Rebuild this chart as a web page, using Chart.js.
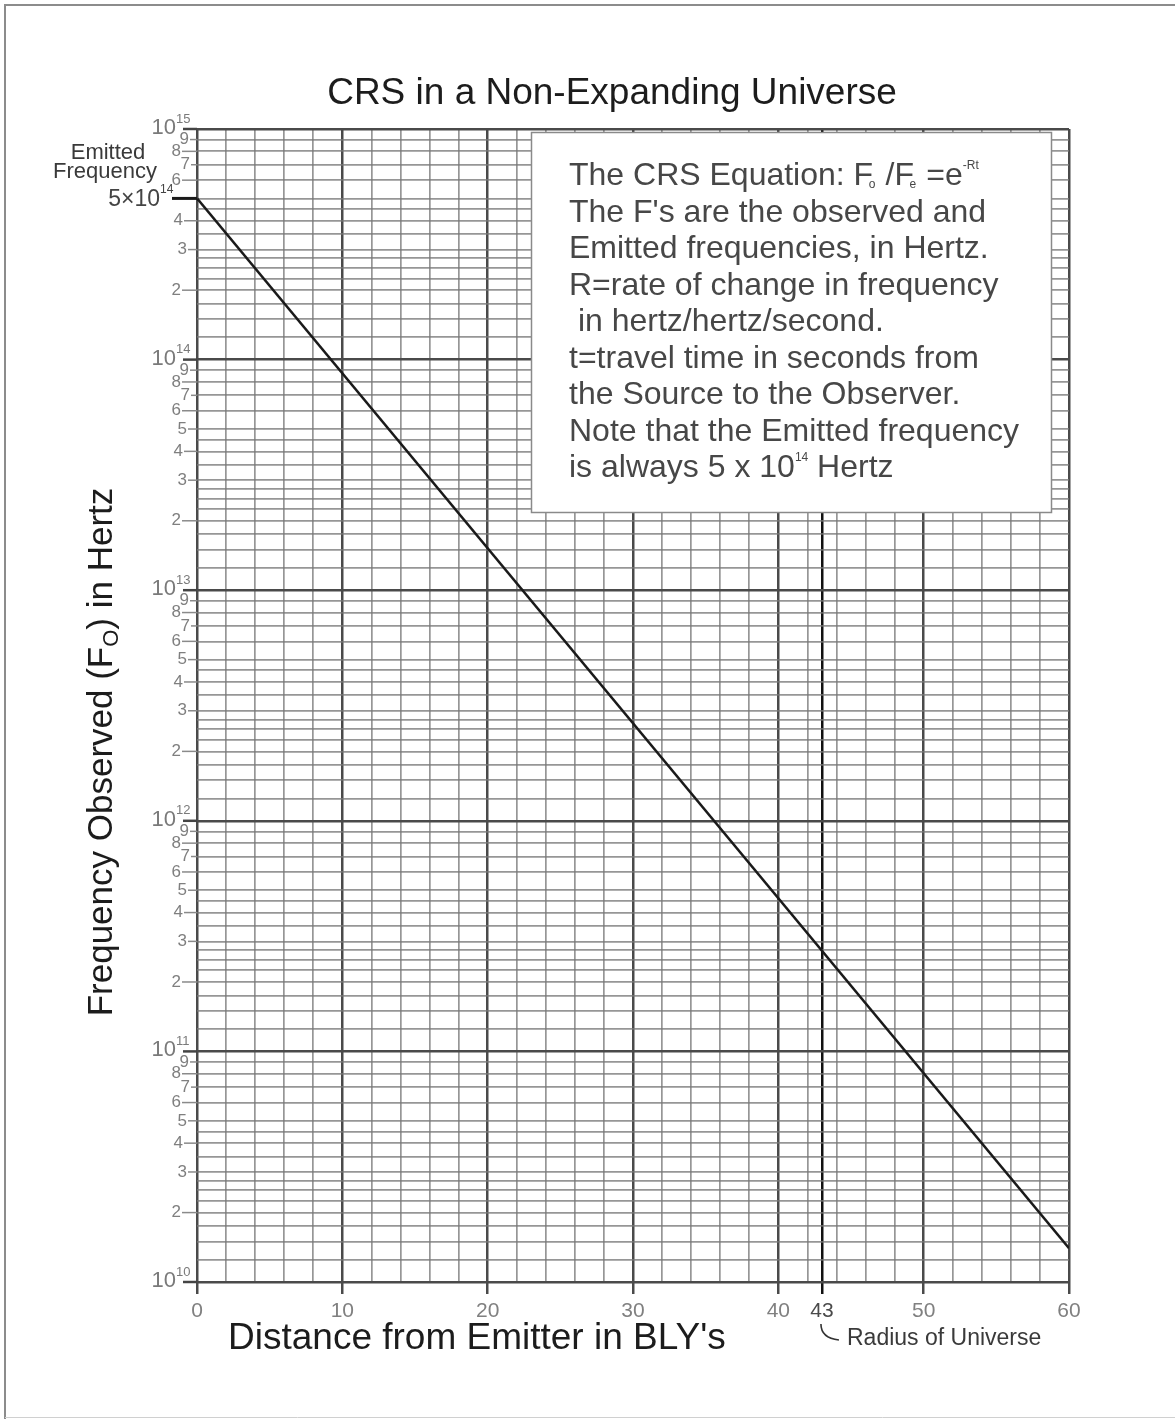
<!DOCTYPE html>
<html>
<head>
<meta charset="utf-8">
<script src="https://cdn.jsdelivr.net/npm/chart.js@4/dist/chart.umd.min.js"></script>
<style>
  html, body { margin: 0; padding: 0; background: #fff; }
  #wrap { position: relative; width: 1175px; height: 1419px; }
  canvas { display: block; }
</style>
</head>
<body>
<div id="wrap"><canvas id="crs" width="1175" height="1419"></canvas></div>
<script>
// Observed frequency falls off exponentially with distance from the emitter
const chartTitle = 'CRS in a Non-Expanding Universe';
const distanceBLY = [0, 60];
const observedHz = [5e14, 1.4e10];
const emittedHz = 5e14;
const radiusOfUniverse = 43;

// x axis: labelled ticks and the ruling of the paper
const xTickLabels = [0, 10, 20, 30, 40, 43, 50, 60];
const xMin = 0, xMax = 60, xRuleStep = 2, xMajorStep = 10;

// y axis: log decades, ruled mantissas, labelled digits
const yDecades = [10, 11, 12, 13, 14, 15];
const yRuleMantissas = [1, 1.25, 1.5, 1.75, 2, 2.25, 2.5, 2.75, 3, 3.5, 4, 4.5, 5, 6, 7, 8, 9];
const yLabelDigits = [9, 8, 7, 6, 5, 4, 3, 2];

const noteLines = [
  [{t: 'The CRS Equation: F'}, {t: 'o', sub: true}, {t: ' /F'}, {t: 'e', sub: true}, {t: ' =e'}, {t: '-Rt', sup: true}],
  [{t: "The F's are the observed and"}],
  [{t: 'Emitted frequencies, in Hertz.'}],
  [{t: 'R=rate of change in frequency'}],
  [{t: ' in hertz/hertz/second.'}],
  [{t: 't=travel time in seconds from'}],
  [{t: 'the Source to the Observer.'}],
  [{t: 'Note that the Emitted frequency'}],
  [{t: 'is always 5 x 10'}, {t: '14', sup: true}, {t: ' Hertz'}]
];

const FONT = '"Liberation Sans", Arial, sans-serif';

const xRuleValues = [];
for (let v = xMin; v <= xMax; v += xRuleStep) xRuleValues.push(v);
xRuleValues.push(radiusOfUniverse);
xRuleValues.sort((a, b) => a - b);

const yRuleValues = [];
yDecades.forEach(d => {
  if (d === yDecades[yDecades.length - 1]) { yRuleValues.push(Math.pow(10, d)); return; }
  yRuleMantissas.forEach(m => yRuleValues.push(m * Math.pow(10, d)));
});

function isDecade(v) {
  const l = Math.log10(v);
  return Math.abs(l - Math.round(l)) < 1e-9;
}

// Draws a run of text pieces with sub/superscripts, returns end x
function drawRich(ctx, parts, x, y, size, color) {
  ctx.fillStyle = color;
  ctx.textBaseline = 'alphabetic';
  ctx.textAlign = 'left';
  parts.forEach(p => {
    if (p.sub) {
      ctx.font = `${Math.round(size * 0.38)}px ${FONT}`;
      ctx.fillText(p.t, x - size * 0.14, y + size * 0.1);
      x += ctx.measureText(p.t).width - size * 0.1;
    } else if (p.sup) {
      ctx.font = `${Math.round(size * 0.36)}px ${FONT}`;
      ctx.fillText(p.t, x, y - size * 0.5);
      x += ctx.measureText(p.t).width;
    } else {
      ctx.font = `${size}px ${FONT}`;
      ctx.fillText(p.t, x, y);
      x += ctx.measureText(p.t).width;
    }
  });
  return x;
}

const annotations = {
  id: 'annotations',
  afterDraw(chart) {
    const ctx = chart.ctx;
    const xs = chart.scales.x, ys = chart.scales.y;
    const area = chart.chartArea;
    ctx.save();

    // page frame
    ctx.strokeStyle = '#8c8c8c';
    ctx.lineWidth = 2;
    ctx.beginPath();
    ctx.moveTo(5, 1419); ctx.lineTo(5, 5); ctx.lineTo(1175, 5);
    ctx.stroke();
    ctx.strokeStyle = '#d0d0d0';
    ctx.lineWidth = 1;
    ctx.beginPath();
    ctx.moveTo(5, 1417.5); ctx.lineTo(1175, 1417.5);
    ctx.stroke();

    // title
    ctx.fillStyle = '#1c1c1c';
    ctx.font = `37px ${FONT}`;
    ctx.textAlign = 'center';
    ctx.textBaseline = 'middle';
    ctx.fillText(chartTitle, 612, 94);

    // y labels: decades with exponents
    yDecades.forEach(d => {
      const py = ys.getPixelForValue(Math.pow(10, d));
      ctx.fillStyle = '#7a7a7a';
      ctx.font = `22px ${FONT}`;
      ctx.textAlign = 'right';
      ctx.textBaseline = 'middle';
      ctx.fillText('10', 176, py - 1);
      ctx.font = `13px ${FONT}`;
      ctx.textAlign = 'left';
      ctx.fillText(String(d), 176, py - 10);
      ctx.strokeStyle = '#444';
      ctx.lineWidth = 2.5;
      ctx.beginPath();
      ctx.moveTo(183, py); ctx.lineTo(area.left, py);
      ctx.stroke();
    });

    // y labels: digits inside each decade, staggered where crowded
    const digitRight = {9: 189, 8: 181, 7: 190, 6: 181, 5: 187, 4: 183, 3: 187, 2: 181};
    yDecades.slice(0, -1).forEach(d => {
      yLabelDigits.forEach(n => {
        const v = n * Math.pow(10, d);
        if (v === emittedHz) return;
        const py = ys.getPixelForValue(v);
        ctx.fillStyle = '#7f7f7f';
        ctx.font = `17px ${FONT}`;
        ctx.textAlign = 'right';
        ctx.textBaseline = 'middle';
        ctx.fillText(String(n), digitRight[n], py);
        ctx.strokeStyle = '#8a8a8a';
        ctx.lineWidth = 1.5;
        ctx.beginPath();
        ctx.moveTo(digitRight[n] + 1, py); ctx.lineTo(area.left, py);
        ctx.stroke();
      });
    });

    // emitted frequency marker
    const pe = ys.getPixelForValue(emittedHz);
    ctx.strokeStyle = '#1a1a1a';
    ctx.lineWidth = 3;
    ctx.beginPath();
    ctx.moveTo(172, pe); ctx.lineTo(area.left, pe);
    ctx.stroke();
    ctx.fillStyle = '#444';
    ctx.font = `23px ${FONT}`;
    ctx.textAlign = 'right';
    ctx.textBaseline = 'middle';
    ctx.fillText('5\u00d710', 160, pe + 1);
    ctx.font = `12px ${FONT}`;
    ctx.textAlign = 'left';
    ctx.fillText('14', 160, pe - 9);
    ctx.font = `22px ${FONT}`;
    ctx.textAlign = 'center';
    ctx.fillStyle = '#3a3a3a';
    ctx.fillText('Emitted', 108, 153);
    ctx.fillText('Frequency', 105, 172);

    // axis titles
    ctx.fillStyle = '#1c1c1c';
    ctx.font = `37px ${FONT}`;
    ctx.textAlign = 'left';
    ctx.textBaseline = 'middle';
    ctx.fillText("Distance from Emitter in BLY's", 228, 1339);

    ctx.save();
    ctx.translate(100, 752);
    ctx.rotate(-Math.PI / 2);
    const partA = 'Frequency Observed (F', partB = 'O', partC = ') in Hertz';
    ctx.font = `35px ${FONT}`;
    const wA = ctx.measureText(partA).width, wC = ctx.measureText(partC).width;
    ctx.font = `22px ${FONT}`;
    const wB = ctx.measureText(partB).width;
    let tx = -(wA + wB + wC) / 2;
    ctx.textBaseline = 'alphabetic';
    ctx.font = `35px ${FONT}`;
    ctx.fillText(partA, tx, 12); tx += wA;
    ctx.font = `22px ${FONT}`;
    ctx.fillText(partB, tx, 18); tx += wB;
    ctx.font = `35px ${FONT}`;
    ctx.fillText(partC, tx, 12);
    ctx.restore();

    // radius of universe note
    const p43 = xs.getPixelForValue(radiusOfUniverse);
    ctx.strokeStyle = '#333';
    ctx.lineWidth = 1.6;
    ctx.beginPath();
    ctx.moveTo(p43 - 1, 1324);
    ctx.quadraticCurveTo(p43 - 1, 1338, p43 + 17, 1340);
    ctx.stroke();
    ctx.fillStyle = '#3a3a3a';
    ctx.font = `23px ${FONT}`;
    ctx.textAlign = 'left';
    ctx.textBaseline = 'middle';
    ctx.fillText('Radius of Universe', 847, 1339);

    // equation note box
    ctx.fillStyle = '#fff';
    ctx.fillRect(531, 132, 521, 381);
    ctx.strokeStyle = '#8a8a8a';
    ctx.lineWidth = 1.5;
    ctx.strokeRect(531.5, 132.5, 520, 380);
    noteLines.forEach((line, i) => {
      drawRich(ctx, line, 569, 185 + i * 36.5, 32, '#474747');
    });

    ctx.restore();
  }
};

new Chart(document.getElementById('crs'), {
  type: 'line',
  data: {
    datasets: [{
      data: distanceBLY.map((d, i) => ({x: d, y: observedHz[i]})),
      borderColor: '#1a1a1a',
      borderWidth: 2.5,
      pointRadius: 0,
      tension: 0,
      fill: false
    }]
  },
  options: {
    responsive: false,
    animation: false,
    devicePixelRatio: 1,
    layout: {padding: {left: 0, top: 129, right: 106, bottom: 0}},
    plugins: {legend: {display: false}, title: {display: false}, tooltip: {enabled: false}},
    scales: {
      x: {
        type: 'linear',
        min: xMin,
        max: xMax,
        afterBuildTicks(scale) { scale.ticks = xRuleValues.map(v => ({value: v})); },
        afterFit(scale) { scale.height = 137; },
        border: {display: false},
        grid: {
          drawTicks: true,
          tickLength: 12,
          color: ctx => {
            const v = ctx.tick ? ctx.tick.value : 0;
            if (v === radiusOfUniverse) return '#111';
            return v % xMajorStep === 0 ? '#4a4a4a' : 'rgba(120,120,120,0.78)';
          },
          lineWidth: ctx => {
            const v = ctx.tick ? ctx.tick.value : 0;
            if (v === radiusOfUniverse) return 2.5;
            return v % xMajorStep === 0 ? 2.5 : 1.7;
          },
          tickColor: ctx => {
            const v = ctx.tick ? ctx.tick.value : 0;
            if (v === radiusOfUniverse) return '#111';
            return xTickLabels.includes(v) ? '#4a4a4a' : 'rgba(0,0,0,0)';
          },
          tickWidth: 2.5
        },
        ticks: {
          autoSkip: false,
          maxRotation: 0,
          padding: 5,
          color: ctx => (ctx.tick && ctx.tick.value === radiusOfUniverse) ? '#4a4a4a' : '#808080',
          font: {family: FONT, size: 21},
          callback: v => xTickLabels.includes(v) ? String(v) : ''
        }
      },
      y: {
        type: 'logarithmic',
        min: Math.pow(10, yDecades[0]),
        max: Math.pow(10, yDecades[yDecades.length - 1]),
        afterBuildTicks(scale) { scale.ticks = yRuleValues.map(v => ({value: v})); },
        afterFit(scale) { scale.width = 197; },
        border: {display: false},
        grid: {
          drawTicks: false,
          color: ctx => (ctx.tick && isDecade(ctx.tick.value)) ? '#4a4a4a' : 'rgba(120,120,120,0.78)',
          lineWidth: ctx => (ctx.tick && isDecade(ctx.tick.value)) ? 2.5 : 1.7
        },
        ticks: {display: false}
      }
    }
  },
  plugins: [annotations]
});
</script>
</body>
</html>
